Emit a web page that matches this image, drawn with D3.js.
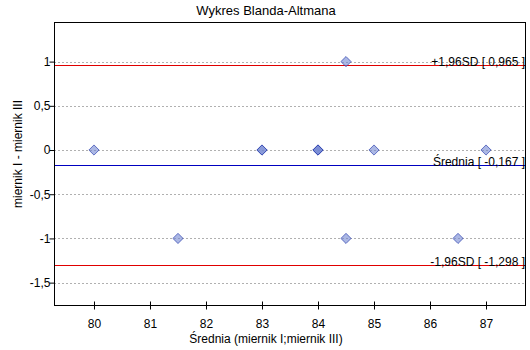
<!DOCTYPE html>
<html><head><meta charset="utf-8">
<script src="https://cdn.jsdelivr.net/npm/d3@7"></script>
<style>body{margin:0;background:#fff}svg{display:block}text{font-family:"Liberation Sans",Arial,sans-serif}</style>
</head><body>
<svg id="c" width="530" height="350"></svg>
<script>
const xMeans = [80, 81.5, 83, 83, 84, 84, 84, 84.5, 84.5, 85, 86.5, 87];
const diffs  = [0, -1, 0, 0, 0, 0, 0, 1, -1, 0, -1, 0];
const xTicks = [80, 81, 82, 83, 84, 85, 86, 87];
const yTicks = [1, 0.5, 0, -0.5, -1, -1.5];
const refLines = [
  {value: 0.965, label: "+1,96SD [ 0,965 ]", color: "#e00000"},
  {value: -0.167, label: "Średnia [ -0,167 ]", color: "#0000c0"},
  {value: -1.298, label: "-1,96SD [ -1,298 ]", color: "#e00000"}
];
const fmt = v => String(v).replace(".", ",");

const svg = d3.select("#c");
const L = 54, R = 526, T = 22, B = 305;
const x = d3.scaleLinear().domain([79.286, 87.714]).range([L, R]);
const y = d3.scaleLinear().domain([1.448, -1.753]).range([T, B]);

// gridlines
svg.append("g").selectAll("line").data(yTicks).join("line")
  .attr("x1", L).attr("x2", R)
  .attr("y1", d => Math.round(y(d)) + 0.5).attr("y2", d => Math.round(y(d)) + 0.5)
  .attr("stroke", "#b0b0b0").attr("stroke-dasharray", "2,2");

// reference lines
svg.append("g").selectAll("line").data(refLines).join("line")
  .attr("x1", L).attr("x2", R)
  .attr("y1", d => Math.round(y(d.value)) + 0.5).attr("y2", d => Math.round(y(d.value)) + 0.5)
  .attr("stroke", d => d.color).attr("stroke-width", 1);
svg.append("g").selectAll("text").data(refLines).join("text")
  .attr("x", R - 1).attr("y", d => Math.round(y(d.value)) + 1)
  .attr("text-anchor", "end").attr("font-size", 12).attr("fill", "#000")
  .text(d => d.label);

// points
const diamond = d3.symbol().type(d3.symbolDiamond2).size(66);
svg.append("g").selectAll("path").data(xMeans).join("path")
  .attr("d", diamond)
  .attr("transform", (d, i) => `translate(${x(d)},${y(diffs[i])})`)
  .attr("fill", "rgba(115,135,210,0.6)").attr("stroke", "rgba(45,65,175,0.7)").attr("stroke-width", 1);

// axes
const yAxis = d3.axisLeft(y).tickValues(yTicks).tickSize(5).tickSizeOuter(0).tickFormat(fmt);
const gy = svg.append("g").attr("transform", `translate(${L + 0.5},0)`).call(yAxis);
const xAxis = d3.axisBottom(x).tickValues(xTicks).tickSize(4).tickSizeOuter(0);
const gx = svg.append("g").attr("transform", `translate(0,${B + 0.5})`).call(xAxis);
[gy, gx].forEach(g => {
  g.select(".domain").remove();
  g.selectAll("line").attr("stroke", "#000");
  g.selectAll("text").attr("font-size", 12).attr("fill", "#000").style("font-family", '"Liberation Sans",Arial,sans-serif');
});
gx.selectAll(".tick line").attr("y1", -4).attr("y2", 4);
gx.selectAll(".tick text").attr("dy", "1.3em");
gy.selectAll(".tick text").attr("x", -4);

// frame
svg.append("rect").attr("x", L + 0.5).attr("y", T + 0.5).attr("width", R - L - 1).attr("height", B - T)
  .attr("fill", "none").attr("stroke", "#000").attr("stroke-width", 1);

// titles
svg.append("text").attr("x", 266).attr("y", 15).attr("text-anchor", "middle").attr("font-size", 13).text("Wykres Blanda-Altmana");
svg.append("text").attr("x", 266).attr("y", 343).attr("text-anchor", "middle").attr("font-size", 12).text("Średnia (miernik I;miernik III)");
svg.append("text").attr("transform", "translate(22,154) rotate(-90)").attr("text-anchor", "middle").attr("font-size", 12).text("miernik I - miernik III");
</script>
</body></html>
